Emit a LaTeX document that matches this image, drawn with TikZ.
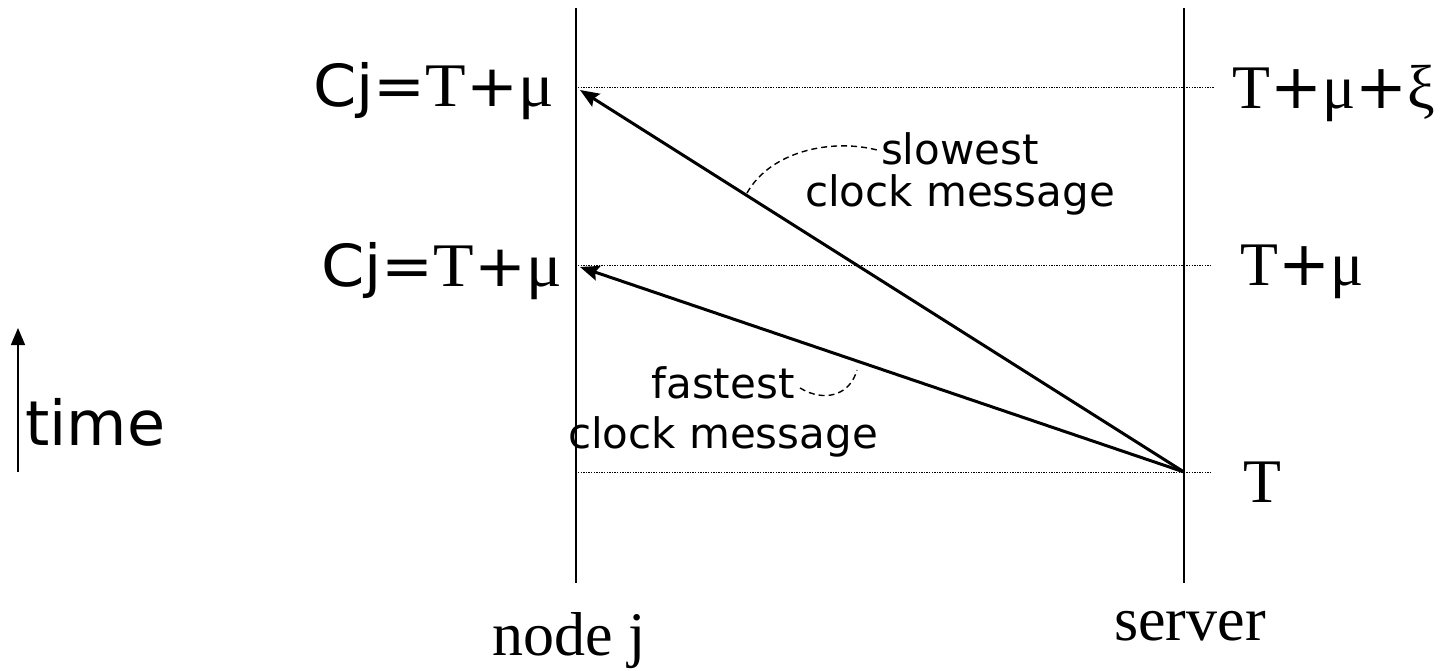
\documentclass[tikz,border=0pt]{standalone}
\usepackage{fontspec}
\setmainfont{Liberation Serif}
\newfontfamily\dv{DejaVu Sans}
\usetikzlibrary{arrows.meta}
\newcommand{\recvlabel}{\scalebox{1.07}[1]{{\dv\fontsize{58}{62}\selectfont Cj=}T{\dv\fontsize{58}{62}\selectfont +}μ}}
\tikzset{
  lifeline/.style={line width=1.8pt},
  level/.style={line width=1pt, dash pattern=on 1.3pt off 1.3pt},
  msg/.style={line width=3pt, -{Stealth[length=19pt,width=15pt,inset=3pt]}},
  note/.style={line width=1.4pt, dash pattern=on 6pt off 4pt},
  recv/.style={inner sep=0pt, font=\fontsize{62}{66}\selectfont},
  big/.style={inner sep=0pt, font=\fontsize{62}{66}\selectfont},
  small/.style={inner sep=0pt, align=center},
}
\begin{document}
\begin{tikzpicture}[x=1pt,y=-1pt]
\useasboundingbox (0,0) rectangle (1448,671);
% lifelines
\coordinate (jtop) at (576,8);
\coordinate (jbot) at (576,583);
\coordinate (stop) at (1184,8);
\coordinate (sbot) at (1184,583);
\draw[lifeline] (jtop) -- (jbot);
\draw[lifeline] (stop) -- (sbot);
% time levels
\coordinate (l1a) at (578,88);  \coordinate (l1b) at (1214,88);
\coordinate (l2a) at (578,265); \coordinate (l2b) at (1212,265);
\coordinate (l3a) at (578,472); \coordinate (l3b) at (1212,472);
\draw[level] (l1a) -- (l1b);
\draw[level] (l2a) -- (l2b);
\draw[level] (l3a) -- (l3b);
% messages
\coordinate (send) at (1184,472);
\coordinate (recvslow) at (580,90);
\coordinate (recvfast) at (580,267);
\draw[msg] (send) -- (recvslow);
\draw[msg] (send) -- (recvfast);
% labels on node j
\node[recv, anchor=base east] (cj1) at (554,107) {\recvlabel};
\node[recv, anchor=base east] (cj2) at (562,286) {\recvlabel};
% labels on server
\node[big, anchor=base west] (s1) at (1232,109) {T{\dv +}μ{\dv +}ξ};
\node[big, anchor=base west] (s2) at (1240,285) {T{\dv +}μ};
\node[big, anchor=base west] (s3) at (1243,502) {T};
% process names
\node[big, anchor=base west] (nj) at (492,655) {node j};
\node[big, anchor=base west] (sv) at (1114,640) {server};
% time axis
\coordinate (tbot) at (18,472);
\coordinate (ttop) at (18,328);
\draw[line width=1.5pt, -{Triangle[length=17pt,width=14pt]}] (tbot) -- (ttop);
\node[inner sep=0pt, anchor=base west, font=\dv\fontsize{62}{66}\selectfont] (tl) at (25,445) {time};
% annotations (base anchor sits on the last line)
\node[small, anchor=base, font=\dv\fontsize{42}{42}\selectfont] (slow) at (960,207) {slowest\\clock message};
\node[small, anchor=base, font=\dv\fontsize{42}{50}\selectfont] (fast) at (723,448) {fastest\\clock message};
\coordinate (slowon) at (747,193);
\coordinate (slowtx) at (877,150);
\draw[note] (slowon) .. controls (770,152) and (830,138) .. (slowtx);
\coordinate (fasttx) at (800,388);
\coordinate (faston) at (857,370);
\draw[note] (fasttx) .. controls (825,403) and (850,395) .. (faston);
\end{tikzpicture}
\end{document}
